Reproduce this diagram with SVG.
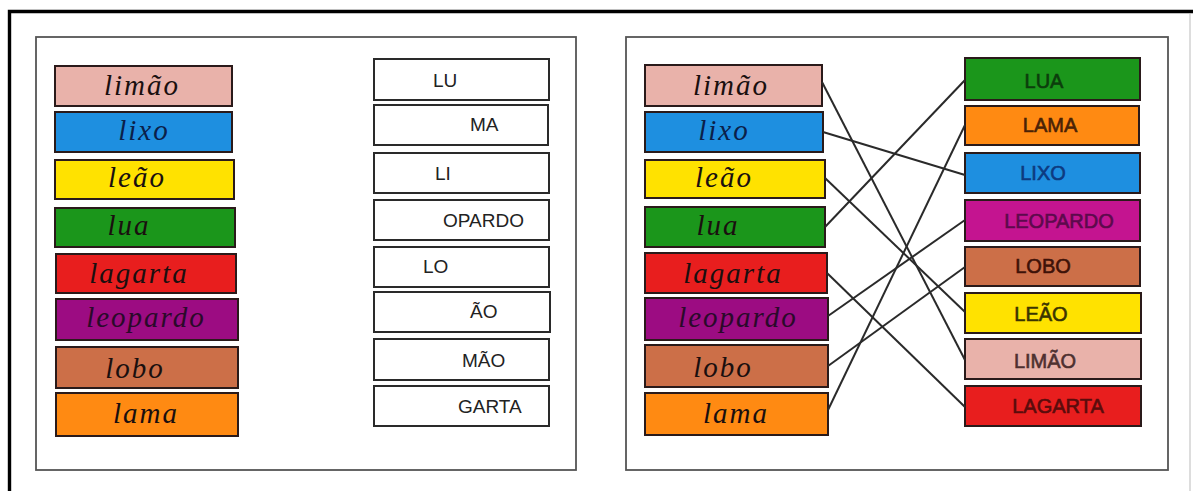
<svg xmlns="http://www.w3.org/2000/svg" width="1193" height="491" viewBox="0 0 1193 491">
<style>
.panel{fill:#fff;stroke:#555;stroke-width:1.8}
.bar{stroke:#2a1a1a;stroke-width:2}
.wbox{fill:#fff;stroke:#2a2a2a;stroke-width:2}
.cur{font-family:"Liberation Serif","DejaVu Serif",serif;font-style:italic;font-size:29px;letter-spacing:2px;fill:#1a0f0f;text-anchor:middle}
.syl{font-family:"Liberation Sans",Arial,sans-serif;font-size:19px;fill:#222}
.cap{font-family:"Liberation Sans",Arial,sans-serif;font-size:20px;text-anchor:middle;stroke-width:0.6}
.ln{stroke:#2a2a2a;stroke-width:2;fill:none}
.pink{fill:#e9b2aa}.blue{fill:#1e8fe0}.yellow{fill:#ffe200}.green{fill:#1b961b}
.red{fill:#e81e1e}.purple{fill:#9c0c82}.magenta{fill:#c41490}.brown{fill:#cc6f48}.orange{fill:#ff8a12}
</style>
<rect width="1193" height="491" fill="#fff"/>
<g id="frame">
<path d="M9.5 491 V11.5 H1193" fill="none" stroke="#000" stroke-width="3.4"/>
<line x1="1190" y1="13" x2="1190" y2="491" stroke="#bbb" stroke-width="1"/>
</g>
<g id="panel-left"><rect class="panel" x="36" y="37" width="540" height="433"/></g>
<g id="panel-right"><rect class="panel" x="626" y="37" width="542" height="433"/></g>

<g id="l-limao"><rect class="bar pink" x="55" y="66" width="177" height="40"/><text class="cur" x="142" y="95">limão</text></g>
<g id="l-lixo"><rect class="bar blue" x="55" y="112" width="177" height="40"/><text class="cur" x="144" y="140" style="fill:#0b1f4a">lixo</text></g>
<g id="l-leao"><rect class="bar yellow" x="55" y="160" width="179" height="39"/><text class="cur" x="137" y="187">leão</text></g>
<g id="l-lua"><rect class="bar green" x="55" y="208" width="180" height="39"/><text class="cur" x="129" y="235">lua</text></g>
<g id="l-lagarta"><rect class="bar red" x="56" y="254" width="180" height="39"/><text class="cur" x="139" y="283">lagarta</text></g>
<g id="l-leopardo"><rect class="bar purple" x="56" y="299" width="182" height="41"/><text class="cur" x="146" y="327" style="fill:#2a0a2a">leopardo</text></g>
<g id="l-lobo"><rect class="bar brown" x="56" y="347" width="182" height="41"/><text class="cur" x="135" y="378">lobo</text></g>
<g id="l-lama"><rect class="bar orange" x="56" y="393" width="182" height="43"/><text class="cur" x="146" y="423">lama</text></g>

<g id="s-lu"><rect class="wbox" x="374" y="59" width="175" height="41"/><text class="syl" x="433" y="87">LU</text></g>
<g id="s-ma"><rect class="wbox" x="374" y="105" width="174" height="40"/><text class="syl" x="470" y="131">MA</text></g>
<g id="s-li"><rect class="wbox" x="374" y="153" width="175" height="40"/><text class="syl" x="435" y="180">LI</text></g>
<g id="s-opardo"><rect class="wbox" x="374" y="200" width="175" height="40"/><text class="syl" x="443" y="227">OPARDO</text></g>
<g id="s-lo"><rect class="wbox" x="374" y="247" width="175" height="40"/><text class="syl" x="423" y="273">LO</text></g>
<g id="s-ao"><rect class="wbox" x="374" y="292" width="176" height="40"/><text class="syl" x="470" y="318">ÃO</text></g>
<g id="s-mao"><rect class="wbox" x="374" y="339" width="175" height="41"/><text class="syl" x="462" y="367">MÃO</text></g>
<g id="s-garta"><rect class="wbox" x="374" y="386" width="175" height="40"/><text class="syl" x="458" y="413">GARTA</text></g>

<g id="r-limao"><rect class="bar pink" x="645" y="65" width="177" height="41"/><text class="cur" x="731" y="95">limão</text></g>
<g id="r-lixo"><rect class="bar blue" x="645" y="112" width="178" height="40"/><text class="cur" x="724" y="140" style="fill:#0b1f4a">lixo</text></g>
<g id="r-leao"><rect class="bar yellow" x="645" y="160" width="180" height="38"/><text class="cur" x="724" y="187">leão</text></g>
<g id="r-lua"><rect class="bar green" x="645" y="207" width="180" height="40"/><text class="cur" x="718" y="235">lua</text></g>
<g id="r-lagarta"><rect class="bar red" x="645" y="253" width="182" height="40"/><text class="cur" x="733" y="283">lagarta</text></g>
<g id="r-leopardo"><rect class="bar purple" x="645" y="298" width="183" height="42"/><text class="cur" x="738" y="327" style="fill:#2a0a2a">leopardo</text></g>
<g id="r-lobo"><rect class="bar brown" x="645" y="345" width="183" height="42"/><text class="cur" x="723" y="377">lobo</text></g>
<g id="r-lama"><rect class="bar orange" x="645" y="393" width="183" height="42"/><text class="cur" x="736" y="423">lama</text></g>

<g id="c-lua"><rect class="bar green" x="965" y="58" width="175" height="42"/><text class="cap" x="1044" y="88" style="fill:#0c3d0c;stroke:#0c3d0c">LUA</text></g>
<g id="c-lama"><rect class="bar orange" x="965" y="106" width="174" height="39"/><text class="cap" x="1050" y="132" style="fill:#4a2206;stroke:#4a2206">LAMA</text></g>
<g id="c-lixo"><rect class="bar blue" x="965" y="153" width="175" height="40"/><text class="cap" x="1043" y="180" style="fill:#0d3a80;stroke:#0d3a80">LIXO</text></g>
<g id="c-leopardo"><rect class="bar magenta" x="965" y="200" width="175" height="41"/><text class="cap" x="1059" y="228" style="fill:#5c0a4c;stroke:#5c0a4c">LEOPARDO</text></g>
<g id="c-lobo"><rect class="bar brown" x="965" y="247" width="175" height="39"/><text class="cap" x="1043" y="273" style="fill:#3e1208;stroke:#3e1208">LOBO</text></g>
<g id="c-leao"><rect class="bar yellow" x="965" y="293" width="176" height="40"/><text class="cap" x="1041" y="321" style="fill:#3a3400;stroke:#3a3400">LEÃO</text></g>
<g id="c-limao"><rect class="bar pink" x="965" y="339" width="176" height="40"/><text class="cap" x="1045" y="368" style="fill:#4e3030;stroke:#4e3030">LIMÃO</text></g>
<g id="c-lagarta"><rect class="bar red" x="965" y="386" width="176" height="40"/><text class="cap" x="1058" y="413" style="fill:#5a0c0c;stroke:#5a0c0c">LAGARTA</text></g>

<g id="connectors">
<line class="ln" x1="822" y1="82" x2="965" y2="360"/>
<line class="ln" x1="823" y1="132" x2="965" y2="175"/>
<line class="ln" x1="825" y1="178" x2="965" y2="312"/>
<line class="ln" x1="825" y1="227" x2="965" y2="80"/>
<line class="ln" x1="827" y1="273" x2="965" y2="407"/>
<line class="ln" x1="828" y1="316" x2="965" y2="220"/>
<line class="ln" x1="828" y1="366" x2="965" y2="267"/>
<line class="ln" x1="828" y1="410" x2="965" y2="125"/>
</g>
</svg>
